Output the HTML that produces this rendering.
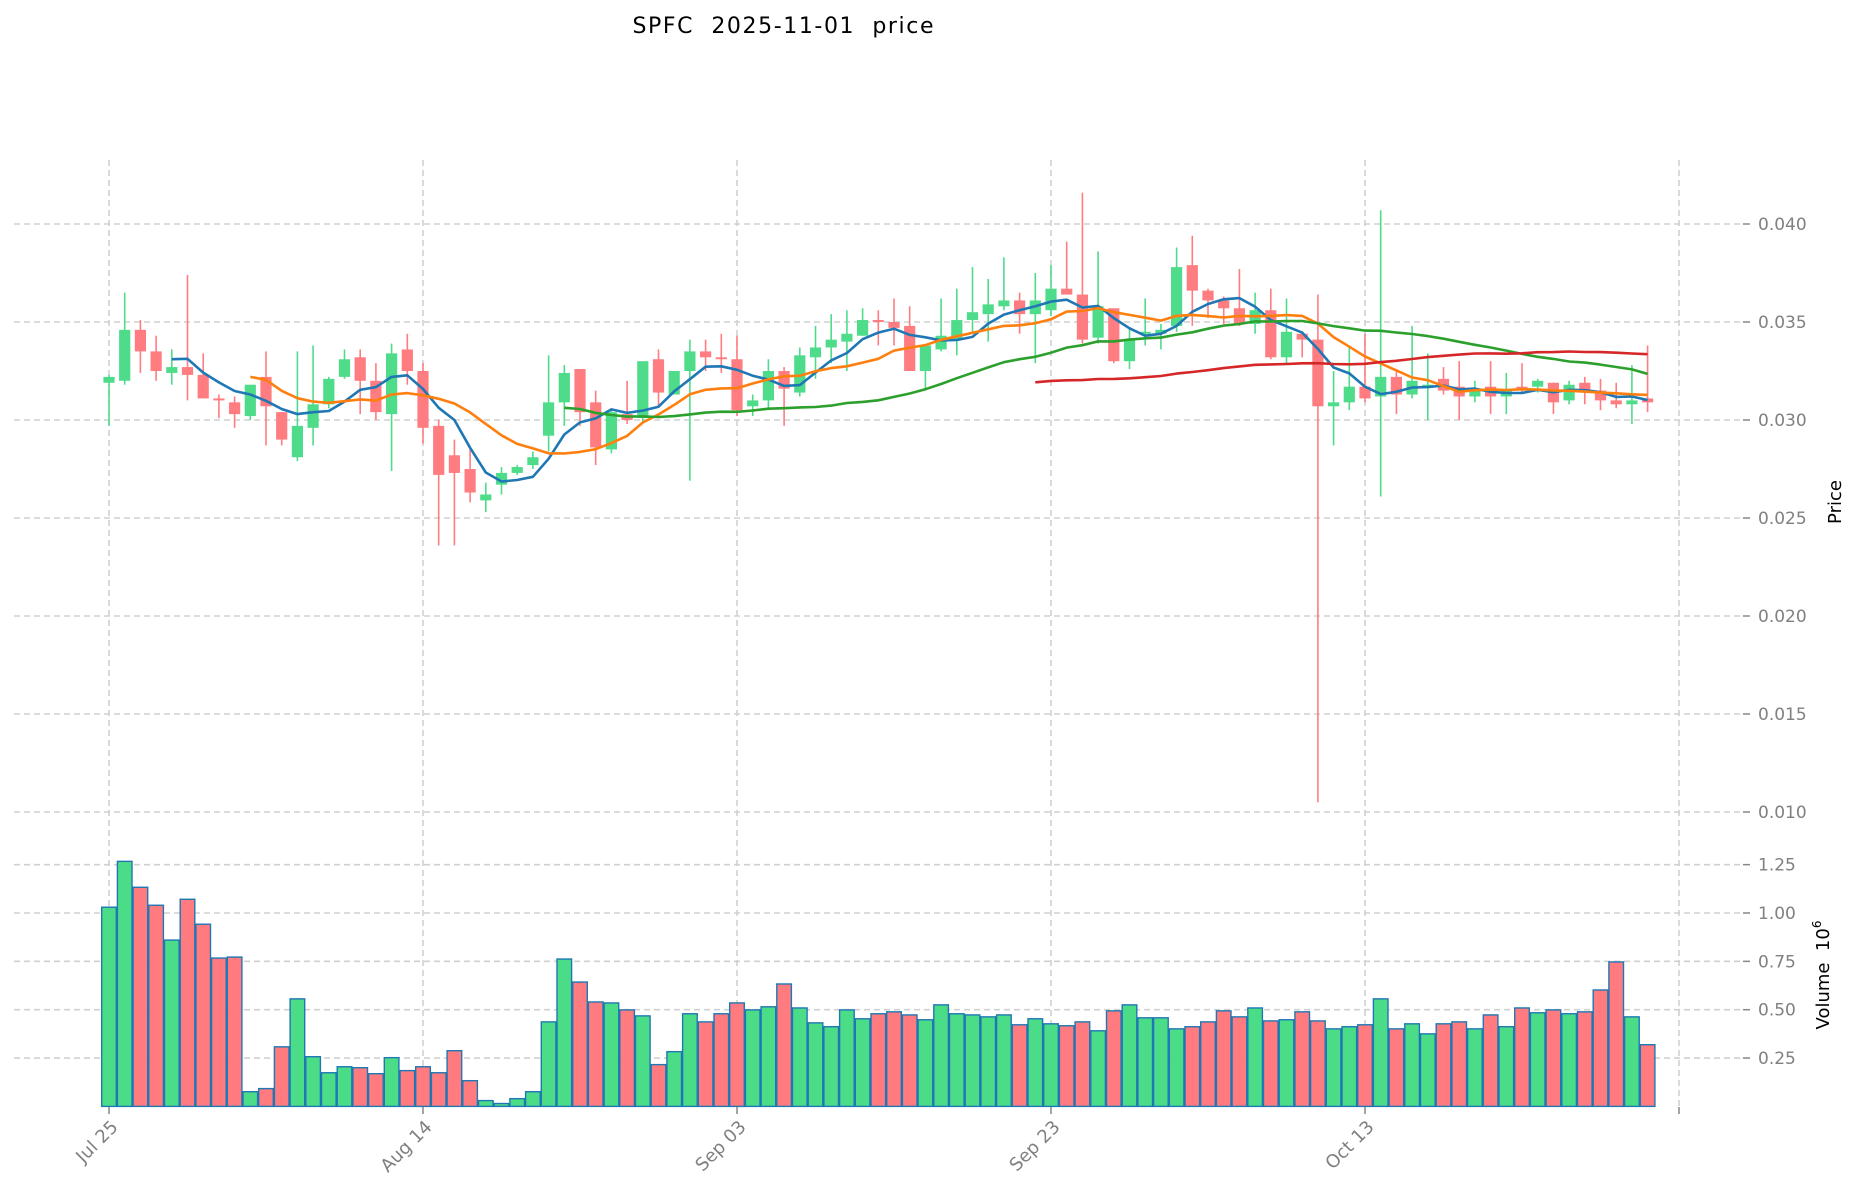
<!DOCTYPE html>
<html><head><meta charset="utf-8"><style>
html,body{margin:0;padding:0;background:#fff;}
svg{display:block;font-family:"DejaVu Sans","Liberation Sans",sans-serif;}
</style></head><body>
<svg id="chart" width="1860" height="1202" viewBox="0 0 1860 1202" xmlns="http://www.w3.org/2000/svg">
<text x="783" y="33" font-size="22" text-anchor="middle" fill="#000" style="white-space:pre" xml:space="preserve" textLength="301" lengthAdjust="spacing">SPFC  2025-11-01  price</text>
<g id="grid"></g>
<g id="vol"></g>
<g id="candles"></g>
<g id="mas"></g>
<g id="axes"></g>
<text transform="translate(1841,502) rotate(-90)" font-size="18" text-anchor="middle" fill="#000">Price</text>
<text transform="translate(1829,975) rotate(-90)" font-size="18" text-anchor="middle" fill="#000" style="white-space:pre" xml:space="preserve">Volume  10<tspan dy="-8" font-size="12">6</tspan></text>
</svg>
<script>
const opens=[.0319,.0320,.0346,.0335,.0324,.0327,.0323,.0311,.0309,.0302,.0322,.0304,.0281,.0296,.0308,.0322,.0332,.0320,.0303,.0336,.0325,.0297,.0282,.0275,.0259,.0267,.0273,.0277,.0292,.0309,.0326,.0309,.0285,.0303,.0301,.0331,.0313,.0325,.0335,.0332,.0331,.0307,.0310,.0325,.0314,.0332,.0337,.0340,.0343,.0351,.0350,.0348,.0325,.0336,.0341,.0351,.0354,.0358,.0361,.0354,.0356,.0367,.0364,.0342,.0357,.0330,.0344,.0344,.0348,.0379,.0366,.0361,.0357,.0349,.0356,.0332,.0344,.0341,.0307,.0309,.0317,.0312,.0322,.0313,.0317,.0321,.0317,.0312,.0317,.0312,.0317,.0317,.0319,.0310,.0319,.0315,.0310,.0308,.0311];
const highs=[.0323,.0365,.0351,.0343,.0336,.0374,.0334,.0313,.0312,.0318,.0335,.0304,.0335,.0338,.0322,.0336,.0336,.0329,.0339,.0344,.0329,.0300,.0290,.0285,.0268,.0276,.0277,.0284,.0333,.0328,.0326,.0315,.0306,.0320,.0330,.0336,.0325,.0341,.0341,.0344,.0343,.0313,.0331,.0327,.0337,.0348,.0354,.0356,.0357,.0356,.0362,.0358,.0338,.0362,.0367,.0378,.0372,.0383,.0365,.0375,.0379,.0391,.0416,.0386,.0357,.0347,.0362,.0349,.0388,.0394,.0367,.0363,.0377,.0365,.0367,.0362,.0344,.0364,.0325,.0337,.0344,.0407,.0326,.0348,.0334,.0327,.0330,.0320,.0330,.0324,.0329,.0321,.0319,.0320,.0322,.0321,.0319,.0328,.0338];
const lows=[.0297,.0318,.0324,.0320,.0318,.0310,.0311,.0301,.0296,.0300,.0287,.0287,.0279,.0287,.0306,.0321,.0303,.0300,.0274,.0318,.0288,.0236,.0236,.0258,.0253,.0262,.0272,.0275,.0284,.0297,.0297,.0277,.0283,.0298,.0299,.0307,.0313,.0269,.0325,.0324,.0302,.0302,.0305,.0297,.0312,.0321,.0329,.0325,.0343,.0338,.0338,.0325,.0315,.0335,.0333,.0345,.0340,.0356,.0344,.0329,.0353,.0364,.0339,.0339,.0329,.0326,.0338,.0336,.0345,.0348,.0352,.0349,.0348,.0344,.0331,.0329,.0332,.0105,.0287,.0305,.0309,.0261,.0303,.0311,.0300,.0313,.0300,.0309,.0303,.0303,.0314,.0314,.0303,.0308,.0308,.0305,.0306,.0298,.0304];
const closes=[.0322,.0346,.0335,.0325,.0327,.0323,.0311,.0310,.0303,.0318,.0307,.0290,.0297,.0308,.0321,.0331,.0320,.0304,.0334,.0325,.0296,.0272,.0273,.0263,.0262,.0273,.0276,.0281,.0309,.0324,.0304,.0286,.0304,.0300,.0330,.0314,.0325,.0335,.0332,.0331,.0305,.0310,.0325,.0316,.0333,.0337,.0341,.0344,.0351,.0350,.0347,.0325,.0338,.0343,.0351,.0355,.0359,.0361,.0354,.0361,.0367,.0364,.0341,.0358,.0330,.0341,.0345,.0346,.0378,.0366,.0361,.0357,.0349,.0356,.0332,.0345,.0341,.0307,.0309,.0317,.0311,.0322,.0313,.0320,.0318,.0315,.0312,.0315,.0312,.0315,.0315,.0320,.0309,.0318,.0314,.0310,.0308,.0310,.0309];
const volumes=[1.030,1.267,1.133,1.040,0.860,1.071,0.942,0.767,0.772,0.076,0.092,0.308,0.556,0.257,0.174,0.205,0.200,0.169,0.252,0.185,0.205,0.174,0.288,0.133,0.030,0.015,0.040,0.076,0.437,0.762,0.643,0.540,0.535,0.499,0.468,0.216,0.283,0.479,0.437,0.479,0.535,0.499,0.515,0.633,0.509,0.432,0.412,0.499,0.453,0.479,0.489,0.473,0.448,0.525,0.479,0.473,0.463,0.473,0.422,0.453,0.427,0.417,0.437,0.391,0.494,0.525,0.458,0.458,0.401,0.412,0.437,0.494,0.463,0.509,0.442,0.448,0.489,0.442,0.401,0.412,0.422,0.556,0.401,0.427,0.375,0.427,0.437,0.401,0.473,0.412,0.509,0.484,0.499,0.479,0.489,0.602,0.747,0.463,0.319];
const dateLabels=["Jul 25","Aug 14","Sep 03","Sep 23","Oct 13"];
const dateTickIdx=[0,20,40,60,80];
const priceTicks=[0.010,0.015,0.020,0.025,0.030,0.035,0.040];
const volTicks=[0.25,0.50,0.75,1.00,1.25];
const maPeriods=[5,10,30,60];
const maColors=["#1f77b4","#ff7f0e","#2ca02c","#d62728"];

const NS="http://www.w3.org/2000/svg";
function mk(tag,attrs,parent){const e=document.createElementNS(NS,tag);for(const k in attrs)e.setAttribute(k,attrs[k]);parent.appendChild(e);return e;}
const xScale=i=>109+i*15.7;
const yP=p=>224+(0.040-p)*19600;
const yV=v=>1106.4-v*193.4;
const G=document.getElementById('grid'),A=document.getElementById('axes'),V=document.getElementById('vol'),C=document.getElementById('candles'),M=document.getElementById('mas');
const grey="#d0d0d0";
priceTicks.forEach(p=>{
  const y=yP(p);
  const l=mk('line',{x1:14,x2:1743,y1:y,y2:y,stroke:grey,'stroke-width':1.6,'stroke-dasharray':'6,4'},G);
  
  
  mk('line',{x1:1743,x2:1750,y1:y,y2:y,stroke:'#888','stroke-width':1.5},A);
  const t=mk('text',{x:1758,y:y+6,'font-size':17,fill:'#808080'},A);
  t.textContent=p.toFixed(3);
  
  
});
volTicks.forEach(v=>{
  const y=yV(v);
  const l=mk('line',{x1:14,x2:1743,y1:y,y2:y,stroke:grey,'stroke-width':1.6,'stroke-dasharray':'6,4'},G);
  
  
  mk('line',{x1:1743,x2:1750,y1:y,y2:y,stroke:'#888','stroke-width':1.5},A);
  const t=mk('text',{x:1758,y:y+6,'font-size':17,fill:'#808080'},A);
  t.textContent=v.toFixed(2);
  
  
});
const vIdx=dateTickIdx.concat([100]);
vIdx.forEach((i,k)=>{
  const x=xScale(i);
  const l=mk('line',{x1:x,x2:x,y1:160,y2:1106,stroke:grey,'stroke-width':1.6,'stroke-dasharray':'6,4'},G);
  
  
  mk('line',{x1:x,x2:x,y1:1107,y2:1114,stroke:'#888','stroke-width':1.5},A);
  if(k<dateLabels.length){
    const t=mk('text',{transform:`translate(${x+10},${1128}) rotate(-45)`,'font-size':18,fill:'#808080','text-anchor':'end'},A);
    t.textContent=dateLabels[k];
    
    
  }
});
volumes.forEach((v,i)=>{
  const up=closes[i]>=opens[i];
  const x=xScale(i);
  const r=mk('rect',{x:x-7.3,y:yV(v),width:14.6,height:yV(0)-yV(v),fill:up?'#4bdc88':'#ff7b80',stroke:'#1f77b4','stroke-width':1.4},V);
  
  
});
opens.forEach((o,i)=>{
  const c=closes[i],up=c>=o,col=up?'#4fdc8a':'#ff7c80';
  const x=xScale(i);
  const g=mk('g',{},C);
  
  
  mk('line',{x1:x,x2:x,y1:yP(highs[i]),y2:yP(lows[i]),stroke:col,'stroke-width':1.6},g);
  const top=yP(Math.max(o,c)),bot=yP(Math.min(o,c));
  mk('rect',{x:x-5.6,y:top,width:11.2,height:Math.max(bot-top,1.5),fill:col},g);
});
maPeriods.forEach((n,k)=>{
  let pts=[];
  for(let i=n-1;i<closes.length;i++){
    let s=0;for(let j=i-n+1;j<=i;j++)s+=closes[j];
    pts.push(xScale(i).toFixed(1)+','+yP(s/n).toFixed(1));
  }
  const pl=mk('polyline',{points:pts.join(' '),fill:'none',stroke:maColors[k],'stroke-width':2.6,'stroke-linejoin':'round'},M);
  
  
});
</script>
</body></html>
